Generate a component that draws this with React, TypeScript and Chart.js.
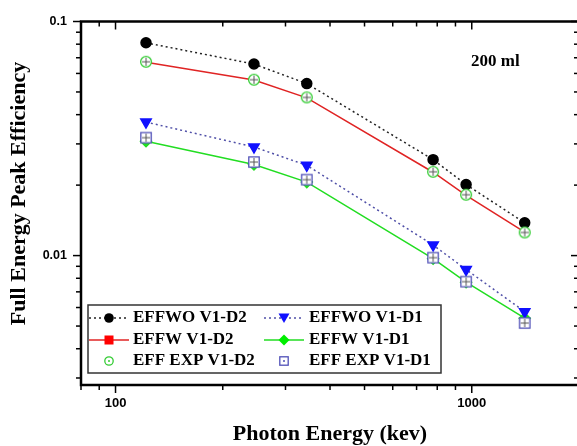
import { useEffect, useRef } from 'react';
import { Chart, registerables } from 'chart.js';

Chart.register(...registerables);

// ---- data ----
const energies = [121.78, 244.7, 344.28, 778.9, 964.1, 1408.0];
const effwoV1D2 = [0.0811, 0.0658, 0.0543, 0.0257, 0.0201, 0.0138];
const effwV1D2 = [0.0670, 0.0562, 0.0472, 0.0227, 0.0181, 0.0126];
const effExpV1D2 = [0.0673, 0.0564, 0.0474, 0.0228, 0.0182, 0.01255];
const effwoV1D1 = [0.0372, 0.0291, 0.0243, 0.0111, 0.00872, 0.00576];
const effwV1D1 = [0.0308, 0.0245, 0.0206, 0.0097, 0.0077, 0.0054];
const effExpV1D1 = [0.0319, 0.0251, 0.0211, 0.0098, 0.00774, 0.00515];

const seriesLabels = ['EFFWO V1-D2', 'EFFWO V1-D1', 'EFFW V1-D2', 'EFFW V1-D1', 'EFF EXP V1-D2', 'EFF EXP V1-D1'];
const xTickValues = [100, 1000];
const yTickValues = [0.01, 0.1];
const xRange = [80, 2000];
const yRange = [0.0028, 0.1];
const annotationText = '200 ml';
const xTitle = 'Photon Energy (kev)';
const yTitle = 'Full Energy Peak Efficiency';

const pts = (ys: number[]) => energies.map((x, i) => ({ x, y: ys[i] }));
const isDecade = (v: number) => Math.abs(Math.log10(v) - Math.round(Math.log10(v))) < 1e-6;

const SERIF = '"Liberation Serif", "Times New Roman", serif';
const SANS = '"Liberation Sans", Arial, sans-serif';

function makeMarker(kind: 'circle' | 'square', color: string) {
  const s = 14;
  const c = document.createElement('canvas');
  c.width = s;
  c.height = s;
  const g = c.getContext('2d')!;
  const m = s / 2;
  g.fillStyle = '#fff';
  g.strokeStyle = color;
  g.lineWidth = 1.3;
  g.beginPath();
  if (kind === 'circle') g.arc(m, m, 5.4, 0, Math.PI * 2);
  else g.rect(m - 5.2, m - 5.2, 10.4, 10.4);
  g.fill();
  g.stroke();
  g.strokeStyle = '#555';
  g.lineWidth = 1;
  g.beginPath();
  g.moveTo(m, m - 4);
  g.lineTo(m, m + 4);
  g.moveTo(m - 4, m);
  g.lineTo(m + 4, m);
  g.stroke();
  return c;
}

const decorPlugin = {
  id: 'decor',
  afterDraw(chart: any) {
    const { ctx, chartArea: a, scales } = chart;
    const xs = scales.x;
    const ys = scales.y;
    ctx.save();
    const seg = (x1: number, y1: number, x2: number, y2: number) => {
      ctx.beginPath();
      ctx.moveTo(x1, y1);
      ctx.lineTo(x2, y2);
      ctx.stroke();
    };
    // tick marks
    ctx.strokeStyle = '#000';
    ctx.lineWidth = 1.5;
    for (const d of [10, 100, 1000]) {
      for (let m = 1; m <= 9; m++) {
        const v = m * d;
        if (v < xRange[0] || v > xRange[1]) continue;
        const px = xs.getPixelForValue(v);
        const len = m === 1 ? 8 : 5;
        seg(px, a.bottom, px, a.bottom + len);
        seg(px, a.top, px, a.top + len);
      }
    }
    for (const d of [0.001, 0.01, 0.1]) {
      for (let m = 1; m <= 9; m++) {
        const v = m * d;
        if (v < yRange[0] || v > yRange[1] * 1.0001) continue;
        const py = ys.getPixelForValue(v);
        const len = m === 1 ? 8 : 5;
        seg(a.left, py, a.left - len, py);
        seg(a.right, py, a.right - len, py);
      }
    }
    // frame
    ctx.lineWidth = 2.5;
    ctx.strokeRect(a.left, a.top, a.right - a.left, a.bottom - a.top);

    // y title
    ctx.fillStyle = '#000';
    ctx.font = `bold 22px ${SERIF}`;
    ctx.textAlign = 'center';
    ctx.textBaseline = 'middle';
    ctx.save();
    ctx.translate(19.5, 193.5);
    ctx.rotate(-Math.PI / 2);
    ctx.fillText(yTitle, 0, 0);
    ctx.restore();

    // annotation
    ctx.font = `bold 17px ${SERIF}`;
    ctx.textAlign = 'left';
    ctx.fillText(annotationText, 471, 61.5);

    // legend
    const box = { l: 88, t: 305, r: 441, b: 373 };
    ctx.fillStyle = '#fff';
    ctx.fillRect(box.l, box.t, box.r - box.l, box.b - box.t);
    ctx.strokeStyle = '#333';
    ctx.lineWidth = 1.5;
    ctx.strokeRect(box.l, box.t, box.r - box.l, box.b - box.t);
    const rows = [318, 340, 361];
    const cols = [88, 263];
    const textX = [133, 309];
    const items = [
      { ds: 0, col: 0, row: 0, mk: 'dot' },
      { ds: 1, col: 1, row: 0, mk: 'tri' },
      { ds: 2, col: 0, row: 1, mk: 'rect' },
      { ds: 3, col: 1, row: 1, mk: 'diamond' },
      { ds: 4, col: 0, row: 2, mk: 'ringDot' },
      { ds: 5, col: 1, row: 2, mk: 'squareDot' },
    ];
    for (const it of items) {
      const ds = chart.data.datasets[it.ds];
      const x0 = cols[it.col];
      const y = rows[it.row];
      const cx = x0 + 21;
      if (ds.showLine !== false) {
        ctx.save();
        ctx.strokeStyle = ds.borderColor;
        ctx.lineWidth = ds.borderWidth;
        ctx.setLineDash(ds.borderDash || []);
        seg(x0 + 1, y, x0 + 41, y);
        ctx.restore();
      }
      const col = ds.legendColor;
      ctx.fillStyle = col;
      ctx.strokeStyle = col;
      ctx.lineWidth = 1.3;
      ctx.beginPath();
      if (it.mk === 'dot') {
        ctx.arc(cx, y, 4.8, 0, Math.PI * 2);
        ctx.fill();
      } else if (it.mk === 'rect') {
        ctx.fillRect(cx - 4.5, y - 4.5, 9, 9);
      } else if (it.mk === 'tri') {
        ctx.moveTo(cx - 5.5, y - 4.5);
        ctx.lineTo(cx + 5.5, y - 4.5);
        ctx.lineTo(cx, y + 5);
        ctx.closePath();
        ctx.fill();
      } else if (it.mk === 'diamond') {
        ctx.moveTo(cx, y - 5.5);
        ctx.lineTo(cx + 5.5, y);
        ctx.lineTo(cx, y + 5.5);
        ctx.lineTo(cx - 5.5, y);
        ctx.closePath();
        ctx.fill();
      } else if (it.mk === 'ringDot') {
        ctx.arc(cx, y, 4.2, 0, Math.PI * 2);
        ctx.stroke();
        ctx.beginPath();
        ctx.arc(cx, y, 1, 0, Math.PI * 2);
        ctx.fill();
      } else if (it.mk === 'squareDot') {
        ctx.strokeRect(cx - 4.2, y - 4.2, 8.4, 8.4);
        ctx.beginPath();
        ctx.arc(cx, y, 1, 0, Math.PI * 2);
        ctx.fill();
      }
      ctx.fillStyle = '#000';
      ctx.font = `bold 17px ${SERIF}`;
      ctx.textAlign = 'left';
      ctx.textBaseline = 'middle';
      ctx.fillText(ds.label, textX[it.col], y);
    }
    ctx.restore();
  },
};

export default function App() {
  const ref = useRef<HTMLCanvasElement>(null);
  useEffect(() => {
    if (!ref.current) return;
    const circleMk = makeMarker('circle', '#33cc33');
    const squareMk = makeMarker('square', '#5050b8');
    const chart = new Chart(ref.current, {
      type: 'line',
      data: {
        datasets: [
          {
            label: seriesLabels[0], data: pts(effwoV1D2), order: 2,
            borderColor: '#222', borderWidth: 1.5, borderDash: [2, 3],
            pointStyle: 'circle', pointRadius: 5, backgroundColor: '#000', pointBorderColor: '#000',
            legendColor: '#000',
          } as any,
          {
            label: seriesLabels[1], data: pts(effwoV1D1), order: 3,
            borderColor: '#5050a8', borderWidth: 1.5, borderDash: [2, 3],
            pointStyle: 'triangle', pointRotation: 180, pointRadius: 6,
            backgroundColor: '#1010ff', pointBorderColor: '#1010ff',
            legendColor: '#1010ff',
          } as any,
          {
            label: seriesLabels[2], data: pts(effwV1D2), order: 4,
            borderColor: '#e02424', borderWidth: 1.5,
            pointStyle: 'rect', pointRadius: 0, backgroundColor: '#ff0000',
            legendColor: '#ff0000',
          } as any,
          {
            label: seriesLabels[3], data: pts(effwV1D1), order: 5,
            borderColor: '#22dd22', borderWidth: 1.5,
            pointStyle: 'rectRot', pointRadius: 5.5, backgroundColor: '#22dd22', pointBorderColor: '#22dd22',
            legendColor: '#00ee00',
          } as any,
          {
            label: seriesLabels[4], data: pts(effExpV1D2), order: 0, showLine: false,
            pointStyle: circleMk, pointRadius: 6, legendColor: '#33cc33',
          } as any,
          {
            label: seriesLabels[5], data: pts(effExpV1D1), order: 1, showLine: false,
            pointStyle: squareMk, pointRadius: 6, legendColor: '#5050b8',
          } as any,
        ],
      },
      options: {
        animation: false,
        responsive: false,
        devicePixelRatio: 1,
        layout: { padding: { top: 15, right: 21, left: 0, bottom: 0 } },
        plugins: { legend: { display: false }, tooltip: { enabled: false } },
        scales: {
          x: {
            type: 'logarithmic',
            min: xRange[0],
            max: xRange[1],
            grid: { display: false, drawTicks: false },
            border: { display: false },
            ticks: {
              autoSkip: false,
              maxRotation: 0,
              padding: 11,
              color: '#000',
              font: { family: SANS, size: 13, weight: 'bold' },
              callback: (v: any) => (xTickValues.some((t) => Math.abs(t - Number(v)) < 1e-6) ? String(v) : ''),
            },
            title: {
              display: true,
              text: xTitle,
              color: '#000',
              font: { family: SERIF, size: 22, weight: 'bold', lineHeight: 1 },
              padding: { top: 0, bottom: 1 },
            },
            afterFit: (s: any) => { s.height = 61; },
          },
          y: {
            type: 'logarithmic',
            min: yRange[0],
            max: yRange[1],
            grid: { display: false, drawTicks: false },
            border: { display: false },
            ticks: {
              autoSkip: false,
              padding: 14,
              color: '#000',
              font: { family: SANS, size: 12.5, weight: 'bold' },
              callback: (v: any) => {
                const n = Number(v);
                if (!isDecade(n)) return '';
                const hit = yTickValues.find((t) => Math.abs(Math.log10(t) - Math.log10(n)) < 1e-6);
                return hit !== undefined ? String(hit) : '';
              },
            },
            afterFit: (s: any) => { s.width = 81; },
          },
        },
      } as any,
      plugins: [decorPlugin],
    });
    return () => chart.destroy();
  }, []);
  return (
    <div style={{ position: 'fixed', left: 0, top: 0, width: 577, height: 446, overflow: 'hidden', background: '#fff' }}>
      <canvas ref={ref} width={600} height={446} style={{ display: 'block' }} />
    </div>
  );
}
